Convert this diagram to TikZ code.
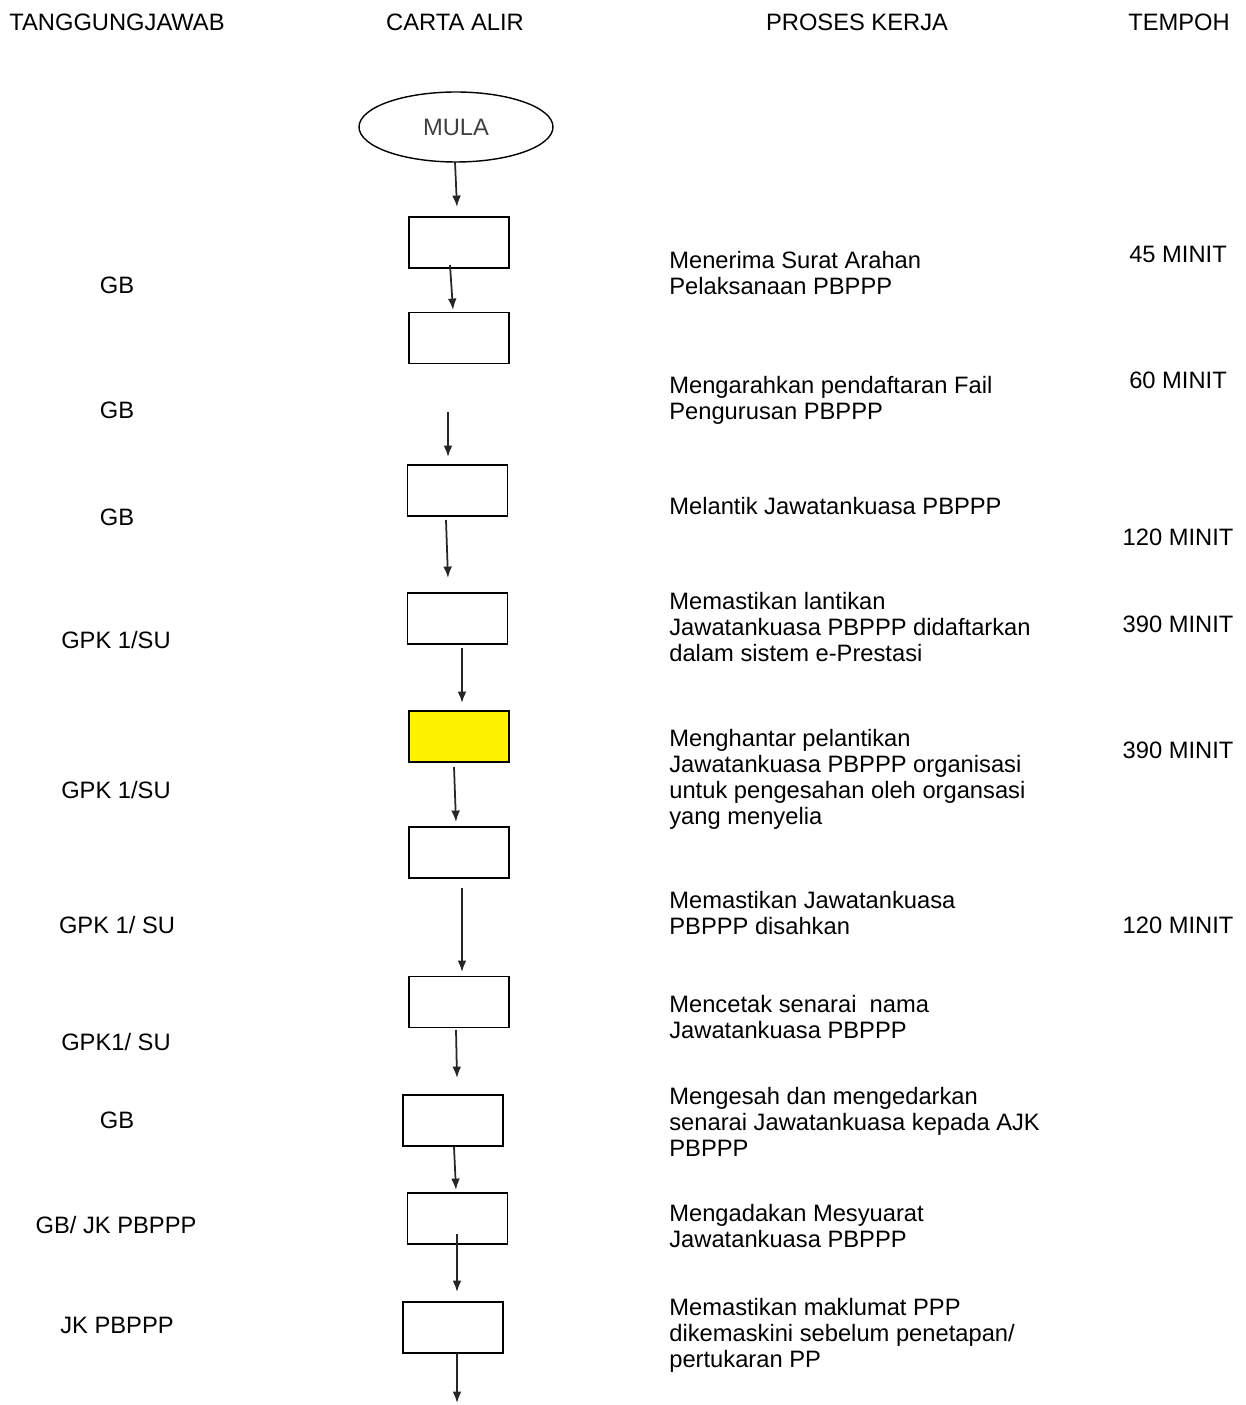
\documentclass[tikz,border=0pt]{standalone}
\usepackage{fontspec}
\setmainfont{Liberation Sans}
\usetikzlibrary{arrows.meta,shapes.geometric}

\begin{document}
\begin{tikzpicture}[
  x=0.02cm, y=-0.02cm,
  >={Latex[length=6.5pt,width=5pt]},
  every node/.style={font=\fontsize{13.5}{14.8}\selectfont},
  stepbox/.style={draw,line width=1pt,minimum width=2cm,minimum height=1.02cm,inner sep=0pt},
  startnode/.style={draw,ellipse,line width=0.8pt,minimum width=3.88cm,minimum height=1.4cm,text=black!75},
  label/.style={anchor=base,inner sep=0pt},
  task/.style={anchor=north west,align=left,inner sep=0pt},
  flow/.style={->,line width=1pt,black!85}
]
  \useasboundingbox (0,0) rectangle (1246,1405);

  % column heads
  \node[label] (hwho)  at (117,30.5)  {TANGGUNGJAWAB};
  \node[label] (hflow) at (455,30.5)  {CARTA ALIR};
  \node[label] (htask) at (857,30.5)  {PROSES KERJA};
  \node[label] (htime) at (1179,30.5) {TEMPOH};

  % flow chart
  \node[startnode] (mula) at (456,127) {MULA};
  \node[stepbox] (b1)  at (459,242.5)  {};
  \node[stepbox] (b2)  at (459,338)    {};
  \node[stepbox] (b3)  at (457.5,490.5) {};
  \node[stepbox] (b4)  at (457.5,618.5) {};
  \node[stepbox,fill=yellow] (b5) at (459,736.5) {};
  \node[stepbox] (b6)  at (459,852.5)  {};
  \node[stepbox] (b7)  at (459,1002)   {};
  \node[stepbox] (b8)  at (453,1120.5) {};
  \node[stepbox] (b9)  at (457.5,1218.5) {};
  \node[stepbox] (b10) at (453,1327.5) {};

  % arrow ends
  \coordinate (a1s) at (455,162);  \coordinate (a1e) at (457,207);
  \coordinate (a2s) at (450,265);  \coordinate (a2e) at (453,310);
  \coordinate (a3s) at (448,412);  \coordinate (a3e) at (448,457);
  \coordinate (a4s) at (446,520);  \coordinate (a4e) at (448,578);
  \coordinate (a5s) at (462,648);  \coordinate (a5e) at (462,703);
  \coordinate (a6s) at (454,767);  \coordinate (a6e) at (456,822);
  \coordinate (a7s) at (462,888);  \coordinate (a7e) at (462,972);
  \coordinate (a8s) at (456,1030); \coordinate (a8e) at (457,1078);
  \coordinate (a9s) at (454,1147); \coordinate (a9e) at (456,1190);
  \coordinate (a10s) at (457,1234); \coordinate (a10e) at (457,1292);
  \coordinate (a11s) at (457,1353); \coordinate (a11e) at (457,1403);
  \foreach \i in {1,...,11}
    \draw[flow] (a\i s) -- (a\i e);

  % responsibility
  \node[label] (w1)  at (117,293.5)  {GB};
  \node[label] (w2)  at (117,418.5)  {GB};
  \node[label] (w3)  at (117,525.5)  {GB};
  \node[label] (w4)  at (116,648.5)  {GPK 1/SU};
  \node[label] (w5)  at (116,798.5)  {GPK 1/SU};
  \node[label] (w6)  at (117,933.5)  {GPK 1/ SU};
  \node[label] (w7)  at (116,1050.5) {GPK1/ SU};
  \node[label] (w8)  at (117,1128.5) {GB};
  \node[label] (w9)  at (116,1233.5) {GB/ JK PBPPP};
  \node[label] (w10) at (117,1333.5) {JK PBPPP};

  % work process
  \node[task] (t1)  at (669,250.5)  {Menerima Surat Arahan\\Pelaksanaan PBPPP};
  \node[task] (t2)  at (669,375.5)  {Mengarahkan pendaftaran Fail\\Pengurusan PBPPP};
  \node[task] (t3)  at (669,496.5)  {Melantik Jawatankuasa PBPPP};
  \node[task] (t4)  at (669,591.5)  {Memastikan lantikan\\Jawatankuasa PBPPP didaftarkan\\dalam sistem e-Prestasi};
  \node[task] (t5)  at (669,728.5)  {Menghantar pelantikan\\Jawatankuasa PBPPP organisasi\\untuk pengesahan oleh organsasi\\yang menyelia};
  \node[task] (t6)  at (669,890.5)  {Memastikan Jawatankuasa\\PBPPP disahkan};
  \node[task] (t7)  at (669,994.5)  {Mencetak senarai \ nama\\Jawatankuasa PBPPP};
  \node[task] (t8)  at (669,1086.5) {Mengesah dan mengedarkan\\senarai Jawatankuasa kepada AJK\\PBPPP};
  \node[task] (t9)  at (669,1203.5) {Mengadakan Mesyuarat\\Jawatankuasa PBPPP};
  \node[task] (t10) at (669,1297.5) {Memastikan maklumat PPP\\dikemaskini sebelum penetapan/\\pertukaran PP};

  % time taken
  \node[label] (m1) at (1178,262.5) {45 MINIT};
  \node[label] (m2) at (1178,388.5) {60 MINIT};
  \node[label] (m3) at (1178,545.5) {120 MINIT};
  \node[label] (m4) at (1178,632.5) {390 MINIT};
  \node[label] (m5) at (1178,758.5) {390 MINIT};
  \node[label] (m6) at (1178,933.5) {120 MINIT};
\end{tikzpicture}
\end{document}
